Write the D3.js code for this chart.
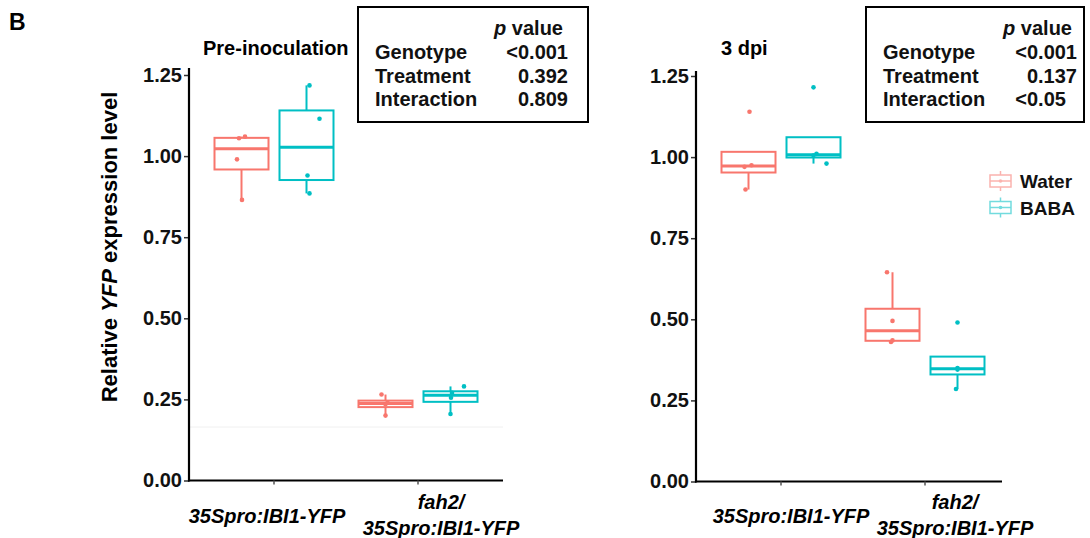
<!DOCTYPE html>
<html>
<head>
<meta charset="utf-8">
<script src="https://cdn.jsdelivr.net/npm/d3@7/dist/d3.min.js"></script>
<style>
  html, body { margin: 0; padding: 0; background: #fff; }
  svg { display: block; font-family: "Liberation Sans", Arial, sans-serif; }
</style>
</head>
<body>
<svg id="chart" width="1090" height="538"></svg>
<script>
// ---------------- DATA ----------------
const panelTitles = ["Pre-inoculation", "3 dpi"];
const genotypes = ["35Spro:IBI1-YFP", "fah2/35Spro:IBI1-YFP"];
const treatments = ["Water", "BABA"];
const yTicks = [0.00, 0.25, 0.50, 0.75, 1.00, 1.25];

// replicate values per genotype
const preWater = [[0.865, 0.99, 1.055, 1.06], [0.20, 0.235, 0.24, 0.265]];
const preBABA  = [[0.885, 0.94, 1.115, 1.218], [0.205, 0.255, 0.27, 0.29]];
const dpiWater = [[0.90, 0.97, 0.975, 1.14], [0.43, 0.435, 0.495, 0.645]];
const dpiBABA  = [[0.98, 1.005, 1.01, 1.215], [0.285, 0.345, 0.35, 0.49]];

const pFactors = ["Genotype", "Treatment", "Interaction"];
const prePvalues = ["<0.001", "0.392", "0.809"];
const dpiPvalues = ["<0.001", "0.137", "<0.05"];

// jitter offsets of the points (px), same shape as the data
const preWaterJit = [[0.5, -4.5, -2.5, 3.5], [0, 0, 2, -4]];
const preBABAJit  = [[3, 1, 13, 3], [0, 0.5, 1.5, 13.5]];
const dpiWaterJit = [[-3, -4, 3, 1], [-1.5, 0, 0, -5.5]];
const dpiBABAJit  = [[13, 0, 3, 0], [-1.5, 0, 0, 0]];

// ---------------- STYLE / LAYOUT ----------------
const colors = { Water: "#F8766D", BABA: "#00BFC4" };
const svg = d3.select("#chart");

const panels = [
  { title: panelTitles[0], water: preWater, baba: preBABA, wj: preWaterJit, bj: preBABAJit,
    axisX: 189, xEnd: 503, yRange: [480.5, 75], yTop: 68, ticks: [274, 418],
    titleX: 203, labelDx: [-7, 23], pvals: prePvalues,
    box: { x: 358, y: 7, w: 230, h: 115, labX: 375, valX: 568, pvX: 563 } },
  { title: panelTitles[1], water: dpiWater, baba: dpiBABA, wj: dpiWaterJit, bj: dpiBABAJit,
    axisX: 696, xEnd: 1002, yRange: [481.5, 76], yTop: 71, ticks: [781, 925],
    titleX: 721, labelDx: [10, 30], pvals: dpiPvalues,
    box: { x: 866, y: 7, w: 218, h: 115, labX: 883, valX: 1077, pvX: 1072 } }
];

function boxStats(vals) {
  const s = vals.slice().sort(d3.ascending);
  const q1 = d3.quantile(s, 0.25), med = d3.quantile(s, 0.5), q3 = d3.quantile(s, 0.75);
  const iqr = q3 - q1;
  const lo = d3.min(s.filter(v => v >= q1 - 1.5 * iqr));
  const hi = d3.max(s.filter(v => v <= q3 + 1.5 * iqr));
  return { q1, med, q3, lo, hi };
}

// label "B"
svg.append("text").attr("x", 9).attr("y", 30).attr("font-size", 23).attr("font-weight", "bold").text("B");

// y axis title
const yt = svg.append("text")
  .attr("transform", "translate(117,247) rotate(-90)")
  .attr("text-anchor", "middle").attr("font-size", 22).attr("font-weight", "bold");
yt.append("tspan").text("Relative ");
yt.append("tspan").attr("font-style", "italic").text("YFP");
yt.append("tspan").text(" expression level");

// faint artefact line in left panel
svg.append("line").attr("x1", 190).attr("x2", 503).attr("y1", 427).attr("y2", 427)
  .attr("stroke", "#f0f0f0").attr("stroke-width", 1);

const boxW = 54;

panels.forEach(p => {
  const g = svg.append("g");
  const y = d3.scaleLinear().domain([0, 1.25]).range(p.yRange);
  const x = d3.scalePoint().domain(genotypes).range(p.ticks);
  const dodge = d3.scalePoint().domain(treatments).range([-32.5, 32.5]);

  // y axis
  const yAxis = d3.axisLeft(y).tickValues(yTicks).tickFormat(d3.format(".2f")).tickSize(5).tickPadding(2);
  const ya = g.append("g").attr("transform", `translate(${p.axisX},0)`).call(yAxis);
  ya.select(".domain").remove();
  ya.selectAll(".tick line").attr("stroke", "#333").attr("stroke-width", 1.5);
  ya.selectAll(".tick text").attr("font-size", 20).attr("font-weight", "bold").attr("fill", "#111")
    .attr("font-family", "Liberation Sans, Arial, sans-serif");
  g.append("line").attr("x1", p.axisX).attr("x2", p.axisX).attr("y1", p.yTop).attr("y2", y(0) + 1)
    .attr("stroke", "#000").attr("stroke-width", 2.2);

  // x axis
  g.append("line").attr("x1", p.axisX - 1).attr("x2", p.xEnd).attr("y1", y(0)).attr("y2", y(0))
    .attr("stroke", "#000").attr("stroke-width", 2.2);
  genotypes.forEach((gt, i) => {
    g.append("line").attr("x1", x(gt)).attr("x2", x(gt)).attr("y1", y(0)).attr("y2", y(0) + 4)
      .attr("stroke", "#555").attr("stroke-width", 1.5);
  });
  // x tick labels
  g.append("text").attr("x", x(genotypes[0]) + p.labelDx[0]).attr("y", 523)
    .attr("text-anchor", "middle").attr("font-size", 20).attr("font-weight", "bold").attr("font-style", "italic")
    .text(genotypes[0]);
  const parts = genotypes[1].split("/");
  const l2 = g.append("text").attr("text-anchor", "middle").attr("font-size", 20)
    .attr("font-weight", "bold").attr("font-style", "italic");
  l2.append("tspan").attr("x", x(genotypes[1]) + p.labelDx[1]).attr("y", 509).text(parts[0] + "/");
  l2.append("tspan").attr("x", x(genotypes[1]) + p.labelDx[1]).attr("y", 535).text(parts[1]);

  // title
  g.append("text").attr("x", p.titleX).attr("y", 55).attr("font-size", 20).attr("font-weight", "bold").text(p.title);

  // boxes
  const series = [
    { t: "Water", data: p.water, jit: p.wj },
    { t: "BABA", data: p.baba, jit: p.bj }
  ];
  series.forEach(s => {
    s.data.forEach((vals, gi) => {
      const cx = x(genotypes[gi]) + dodge(s.t);
      const st = boxStats(vals);
      const c = colors[s.t];
      if (st.hi > st.q3) g.append("line").attr("x1", cx).attr("x2", cx).attr("y1", y(st.q3)).attr("y2", y(st.hi))
        .attr("stroke", c).attr("stroke-width", 2);
      if (st.lo < st.q1) g.append("line").attr("x1", cx).attr("x2", cx).attr("y1", y(st.q1)).attr("y2", y(st.lo))
        .attr("stroke", c).attr("stroke-width", 2);
      g.append("rect").attr("x", cx - boxW / 2).attr("width", boxW)
        .attr("y", y(st.q3)).attr("height", y(st.q1) - y(st.q3))
        .attr("fill", "#fff").attr("stroke", c).attr("stroke-width", 2);
      g.append("line").attr("x1", cx - boxW / 2).attr("x2", cx + boxW / 2).attr("y1", y(st.med)).attr("y2", y(st.med))
        .attr("stroke", c).attr("stroke-width", 3);
      vals.forEach((v, k) => {
        g.append("circle").attr("cx", cx + s.jit[gi][k]).attr("cy", y(v)).attr("r", 2.3).attr("fill", c);
      });
    });
  });

  // p value box
  const b = p.box;
  g.append("rect").attr("x", b.x).attr("y", b.y).attr("width", b.w).attr("height", b.h)
    .attr("fill", "none").attr("stroke", "#000").attr("stroke-width", 2);
  const pv = g.append("text").attr("x", b.pvX).attr("y", 35).attr("text-anchor", "end")
    .attr("font-size", 20).attr("font-weight", "bold").attr("fill", "#111");
  pv.append("tspan").attr("font-style", "italic").text("p");
  pv.append("tspan").text(" value");
  const rowY = [59, 83, 106];
  pFactors.forEach((f, i) => {
    g.append("text").attr("x", b.labX).attr("y", rowY[i]).attr("font-size", 20).attr("font-weight", "bold")
      .attr("fill", "#111").text(f);
  });
  const probe = g.append("text").attr("font-size", 20).attr("font-weight", "bold").text(p.pvals[0]);
  const refW = probe.node().getComputedTextLength();
  probe.remove();
  p.pvals.forEach((v, i) => {
    const isLt = v.startsWith("<");
    g.append("text").attr("x", isLt ? b.valX - refW : b.valX).attr("y", rowY[i])
      .attr("text-anchor", isLt ? "start" : "end")
      .attr("font-size", 20).attr("font-weight", "bold").attr("fill", "#111").text(v);
  });
});

// legend
const leg = svg.append("g");
treatments.forEach((t, i) => {
  const cy = 181 + i * 26.5;
  const c = colors[t];
  const lg = leg.append("g").attr("opacity", 0.55);
  lg.append("line").attr("x1", 1000.5).attr("x2", 1000.5).attr("y1", cy - 10).attr("y2", cy + 10)
    .attr("stroke", c).attr("stroke-width", 1.5);
  lg.append("rect").attr("x", 990).attr("y", cy - 6).attr("width", 21).attr("height", 12)
    .attr("fill", "#fff").attr("stroke", c).attr("stroke-width", 1.5);
  lg.append("line").attr("x1", 990).attr("x2", 1011).attr("y1", cy).attr("y2", cy)
    .attr("stroke", c).attr("stroke-width", 1.5);
  lg.append("circle").attr("cx", 1000.5).attr("cy", cy).attr("r", 1.8).attr("fill", c);
  leg.append("text").attr("x", 1020).attr("y", cy + 7).attr("font-size", 19).attr("font-weight", "bold")
    .attr("fill", "#111").text(t);
});
</script>
</body>
</html>
